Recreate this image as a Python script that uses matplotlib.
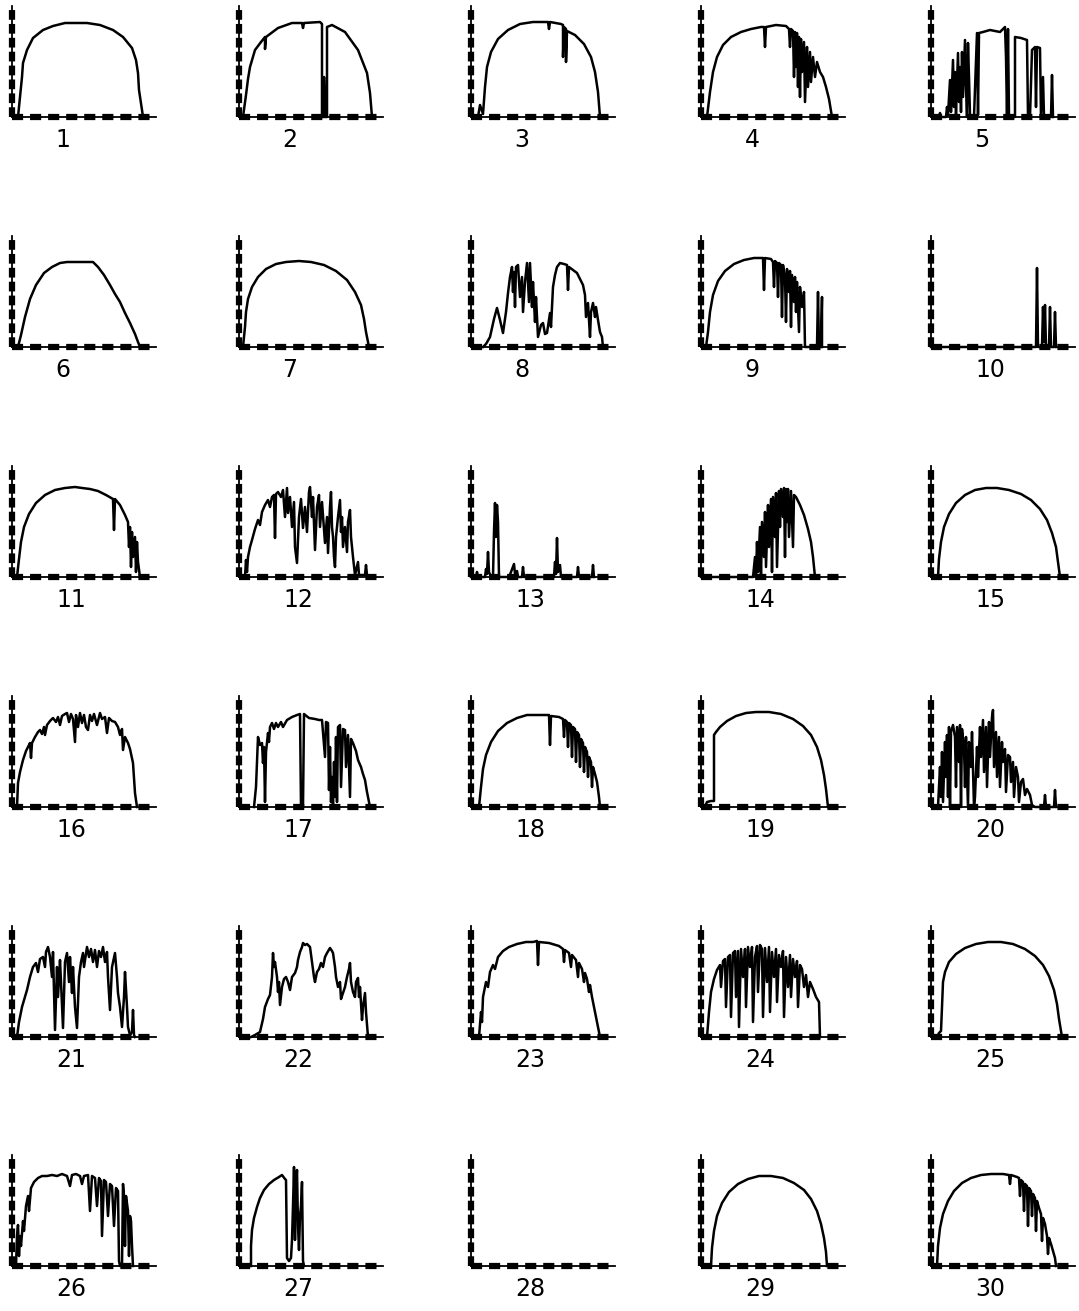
import matplotlib
matplotlib.use("Agg")
import matplotlib.pyplot as plt

# each day: (time step, irradiance) vertices, in panel units (axis 144 wide, 111 high)
day01 = [(6,0),(8,20),(10,40),(11,54),(15,67),(21,79),(31,87),(41,91),(53,94),(75,94),(88,92),(101,87),(111,80),(120,69),(124,57),(126,44),(127,27),(130,7),(131,0)]
day02 = [(4,0),(7,22),(9,38),(11,50),(16,67),(22,75),(26,80),(26,68),(27,80),(39,89),(53,94),(63,94),(64,89),(65,94),(81,95),(83,93),(83,0),(85,0),(85,40),(86,0),(88,0),(88,90),(93,92),(106,85),(119,67),(128,44),(131,24),(133,0)]
day03 = [(7,0),(9,12),(12,3),(14,30),(16,50),(20,65),(27,78),(37,87),(49,93),(62,95),(77,95),(78,88),(79,95),(90,93),(92,92),(92,60),(93,90),(95,88),(95,55),(96,86),(104,82),(113,73),(120,60),(124,45),(127,25),(129,0)]
day04 = [(6,0),(9,25),(12,45),(16,60),(22,72),(30,80),(40,85),(50,88),(60,90),(63,90),(64,70),(65,90),(75,92),(85,91),(88,88),(89,70),(90,88),(92,86),(93,40),(94,85),(95,50),(96,84),(97,30),(98,80),(99,20),(100,78),(101,45),(103,75),(104,15),(106,70),(107,30),(109,65),(110,35),(112,60),(114,40),(116,55),(119,45),(122,40),(125,30),(128,18),(131,0)]
day05 = [(8,0),(9,4),(10,0),(15,0),(16,10),(17,2),(19,37),(20,5),(22,57),(23,10),(24,45),(25,3),(27,64),(28,15),(29,50),(30,5),(31,65),(32,20),(34,77),(35,30),(36,0),(37,74),(38,40),(39,2),(43,0),(46,84),(47,2),(48,84),(52,85),(59,87),(69,85),(74,90),(75,60),(76,0),(77,88),(78,0),(84,0),(84,80),(90,79),(96,77),(97,0),(99,0),(101,67),(104,70),(105,10),(106,70),(109,69),(110,0),(112,40),(113,0),(120,0),(121,42),(122,0)]
day06 = [(6,0),(9,12),(13,30),(18,48),(24,62),(32,74),(40,80),(48,84),(55,85),(81,85),(86,80),(92,72),(98,62),(103,53),(108,45),(113,34),(118,24),(123,13),(126,5),(128,0)]
day07 = [(4,0),(6,20),(7,35),(9,48),(13,60),(19,70),(27,78),(37,83),(47,85),(60,86),(72,85),(85,82),(97,76),(108,67),(116,55),(122,42),(125,28),(127,15),(130,0)]
day08 = [(12,0),(15,3),(19,10),(23,28),(26,39),(29,27),(32,14),(35,35),(37,54),(39,70),(41,80),(42,55),(43,75),(44,40),(45,80),(47,82),(49,50),(51,70),(52,35),(54,65),(56,84),(58,45),(59,84),(61,40),(62,65),(64,25),(65,50),(67,10),(70,22),(72,24),(74,13),(76,14),(79,34),(80,20),(82,60),(84,72),(86,80),(89,84),(93,83),(96,82),(97,57),(98,80),(102,77),(106,74),(109,68),(112,62),(114,52),(115,30),(117,44),(119,10),(120,35),(122,44),(124,30),(125,40),(127,27),(129,15),(131,10),(132,0)]
day09 = [(5,0),(7,15),(9,35),(12,52),(17,66),(24,76),(33,83),(43,87),(53,89),(62,89),(63,57),(64,89),(70,88),(72,85),(73,60),(74,86),(76,84),(77,50),(78,84),(80,82),(81,30),(82,82),(84,70),(85,25),(86,78),(88,55),(89,76),(90,20),(91,72),(93,45),(94,70),(95,35),(96,65),(98,15),(99,60),(101,40),(103,55),(104,0),(116,0),(117,55),(118,0),(120,0),(121,50),(121,0)]
day10 = [(0,0),(105,0),(106,79),(107,0),(111,0),(112,40),(113,5),(114,42),(115,0),(118,0),(119,40),(120,0),(123,0),(124,35),(125,0)]
day11 = [(5,0),(7,18),(9,35),(12,50),(17,63),(24,74),(33,82),(43,87),(53,89),(63,90),(70,89),(78,88),(86,86),(94,82),(101,78),(102,47),(103,78),(108,72),(113,62),(116,55),(117,30),(118,50),(119,10),(120,45),(121,20),(123,40),(124,5),(125,35),(126,15),(128,0)]
day12 = [(6,0),(7,17),(8,5),(9,20),(11,30),(13,37),(16,48),(19,57),(21,52),(23,65),(26,72),(29,77),(31,70),(33,80),(35,82),(36,39),(37,83),(39,85),(42,80),(44,87),(46,60),(48,89),(49,64),(51,80),(53,50),(55,75),(56,30),(58,14),(60,60),(62,78),(64,49),(66,70),(68,45),(70,85),(71,90),(73,60),(74,80),(76,27),(78,70),(80,82),(81,50),(83,75),(86,34),(88,60),(89,24),(91,70),(92,85),(93,50),(94,40),(95,20),(96,10),(97,40),(99,60),(101,77),(102,45),(103,60),(104,30),(106,50),(108,25),(109,55),(111,67),(112,40),(114,20),(116,2),(119,15),(120,2),(126,2),(127,12),(128,2),(129,0)]
day13 = [(0,0),(5,0),(6,5),(7,0),(14,0),(15,8),(16,3),(17,25),(18,5),(20,0),(22,0),(23,45),(24,74),(25,40),(26,72),(27,55),(28,0),(38,0),(40,5),(43,13),(44,3),(46,6),(47,0),(51,0),(52,10),(53,0),(83,0),(84,15),(85,3),(86,39),(87,5),(89,12),(90,0),(106,0),(107,10),(108,0),(121,0),(122,12),(123,0)]
day14 = [(0,0),(52,0),(54,20),(55,0),(56,35),(57,5),(59,50),(60,0),(61,55),(63,20),(64,65),(65,10),(67,72),(68,30),(70,78),(71,5),(72,80),(74,40),(75,84),(76,10),(78,86),(79,50),(80,88),(82,60),(83,89),(84,20),(85,88),(86,55),(87,88),(88,40),(90,86),(92,30),(93,82),(95,80),(99,72),(103,62),(107,48),(110,35),(112,20),(114,0)]
day15 = [(7,0),(8,18),(10,35),(13,50),(18,63),(25,74),(34,82),(44,87),(55,89),(66,89),(78,87),(90,83),(100,77),(109,68),(116,57),(121,44),(125,30),(127,15),(129,0)]
day16 = [(5,0),(6,24),(8,35),(11,47),(14,56),(16,60),(18,64),(19,49),(20,64),(23,70),(26,75),(28,77),(30,73),(32,80),(33,72),(35,82),(38,86),(41,89),(44,85),(46,90),(48,82),(50,91),(53,93),(55,94),(57,85),(59,93),(61,88),(63,65),(64,92),(66,80),(68,94),(70,84),(72,92),(74,80),(76,77),(78,92),(80,86),(82,93),(85,82),(88,94),(90,88),(93,90),(95,74),(97,89),(100,86),(103,85),(106,80),(108,72),(110,78),(111,57),(113,70),(116,64),(118,58),(121,44),(123,14),(125,0)]
day17 = [(15,0),(17,20),(19,70),(21,62),(23,64),(24,44),(25,60),(26,5),(27,55),(29,74),(30,65),(31,80),(33,84),(35,78),(37,84),(39,80),(42,85),(44,80),(48,87),(53,90),(58,92),(61,93),(62,0),(64,0),(65,93),(70,89),(76,88),(80,87),(83,87),(86,50),(87,85),(89,84),(90,17),(91,60),(92,5),(93,30),(94,2),(95,45),(96,10),(97,70),(98,5),(99,80),(101,82),(102,20),(104,78),(106,77),(107,40),(109,72),(111,10),(112,68),(114,64),(117,56),(119,47),(122,40),(124,33),(126,27),(128,15),(131,0)]
day18 = [(8,0),(10,20),(12,38),(15,52),(20,65),(27,76),(36,84),(46,89),(56,92),(70,92),(78,92),(79,62),(80,91),(88,90),(92,88),(93,70),(94,87),(96,85),(97,60),(98,84),(100,82),(101,50),(102,80),(104,78),(105,45),(106,75),(108,72),(109,40),(110,68),(112,64),(113,35),(114,60),(116,55),(117,30),(118,50),(120,45),(121,20),(122,40),(124,33),(126,25),(128,10),(129,0)]
day19 = [(4,0),(6,5),(10,6),(13,6),(13,72),(15,75),(19,80),(26,86),(35,91),(45,94),(55,95),(68,95),(80,93),(92,88),(102,81),(110,72),(116,60),(120,47),(123,32),(125,18),(127,0)]
day20 = [(7,0),(9,40),(10,10),(11,55),(12,5),(14,65),(15,30),(16,72),(17,10),(18,80),(19,0),(20,75),(22,82),(24,70),(25,20),(26,80),(28,45),(29,82),(30,0),(31,78),(33,60),(34,20),(35,70),(37,0),(38,65),(40,40),(41,75),(43,0),(44,10),(46,60),(47,30),(49,80),(50,50),(52,87),(53,35),(55,80),(56,20),(58,85),(59,50),(61,90),(62,97),(63,40),(65,75),(66,30),(68,70),(69,20),(71,65),(72,45),(74,58),(75,15),(77,52),(79,50),(80,25),(82,45),(83,10),(85,40),(87,30),(88,5),(90,25),(92,28),(94,12),(96,18),(99,12),(101,2),(104,0),(113,0),(114,12),(115,0),(123,0),(124,17),(125,0)]
day21 = [(5,0),(7,15),(10,30),(15,47),(18,60),(21,70),(24,74),(26,65),(28,78),(31,80),(33,70),(34,85),(36,90),(38,80),(40,60),(41,85),(43,7),(45,70),(46,40),(48,77),(49,55),(51,9),(53,75),(55,84),(57,55),(58,80),(60,44),(61,70),(63,30),(65,9),(67,60),(69,75),(71,84),(72,70),(75,90),(77,80),(79,88),(81,75),(83,87),(85,70),(87,86),(89,80),(91,90),(93,75),(95,85),(96,60),(98,27),(100,70),(103,84),(105,60),(106,44),(108,30),(110,10),(112,40),(113,65),(115,30),(116,10),(118,2),(120,5),(121,27),(122,2),(123,0)]
day22 = [(12,0),(16,2),(21,5),(24,18),(26,30),(29,38),(31,42),(33,60),(34,84),(35,70),(36,75),(38,60),(39,45),(40,55),(41,32),(43,50),(45,58),(47,60),(49,55),(51,47),(53,60),(56,64),(58,70),(59,77),(61,85),(63,90),(64,94),(66,92),(68,93),(71,90),(73,75),(75,60),(76,55),(78,65),(80,68),(82,74),(84,70),(86,80),(88,84),(91,89),(93,86),(94,84),(96,70),(97,60),(99,50),(101,55),(102,38),(104,44),(106,50),(108,60),(110,68),(111,74),(112,55),(114,45),(116,40),(117,55),(119,59),(120,40),(121,50),(123,17),(124,30),(126,44),(127,25),(129,0)]
day23 = [(8,0),(10,25),(11,15),(12,40),(15,55),(17,50),(19,65),(22,72),(24,68),(27,80),(32,86),(38,90),(46,93),(55,95),(62,95),(66,96),(67,72),(68,95),(78,94),(88,91),(92,88),(93,75),(94,87),(98,84),(100,70),(101,82),(105,77),(107,60),(108,74),(111,68),(113,55),(114,64),(116,58),(118,45),(119,52),(121,40),(123,30),(125,20),(127,10),(129,0)]
day24 = [(6,0),(8,25),(10,45),(13,58),(16,67),(19,72),(20,50),(22,76),(24,78),(25,30),(27,80),(29,82),(30,20),(32,84),(34,86),(35,40),(37,86),(38,10),(40,88),(42,60),(44,88),(45,30),(47,90),(49,70),(51,90),(52,15),(54,80),(56,91),(57,45),(59,92),(61,88),(62,20),(64,89),(66,55),(68,90),(69,25),(71,85),(73,60),(75,88),(76,35),(78,82),(80,70),(82,86),(83,20),(85,80),(87,50),(89,82),(90,40),(92,78),(94,60),(96,76),(97,30),(99,72),(101,68),(103,50),(105,62),(107,40),(109,55),(112,48),(115,40),(118,35),(119,0)]
day25 = [(6,0),(8,4),(10,6),(11,30),(12,55),(14,65),(18,75),(25,83),(34,89),(45,93),(57,95),(70,95),(82,93),(94,88),(104,81),(112,72),(118,61),(123,47),(126,33),(128,18),(131,0)]
day26 = [(4,0),(5,30),(6,41),(7,10),(8,30),(9,20),(11,45),(12,35),(14,60),(16,70),(17,55),(19,78),(22,84),(26,88),(30,90),(35,90),(40,91),(45,90),(50,92),(55,90),(58,80),(60,91),(64,92),(68,90),(70,82),(72,90),(76,91),(78,55),(80,90),(83,88),(85,60),(87,88),(89,85),(90,30),(92,86),(94,84),(96,50),(98,82),(100,80),(102,40),(104,78),(106,75),(107,5),(108,0),(110,0),(111,82),(112,70),(113,20),(114,70),(116,55),(117,10),(118,50),(119,45),(120,20),(121,0)]
day27 = [(12,0),(12,20),(13,36),(15,48),(18,59),(21,68),(25,76),(30,82),(35,86),(40,89),(43,91),(46,87),(47,86),(48,8),(50,5),(52,8),(53,26),(54,60),(55,99),(56,26),(57,80),(58,96),(59,40),(60,16),(61,50),(62,60),(63,84),(64,5),(65,0)]
day28 = []
day29 = [(10,0),(11,18),(13,35),(16,50),(21,63),(28,74),(37,82),(47,87),(58,90),(70,90),(82,88),(93,83),(103,76),(110,67),(116,55),(120,42),(123,28),(125,14),(126,0)]
day30 = [(6,0),(7,20),(9,38),(12,52),(17,65),(23,75),(31,83),(40,88),(50,91),(60,92),(72,92),(78,91),(79,82),(80,91),(86,89),(88,88),(89,70),(90,86),(92,84),(93,55),(94,82),(96,80),(97,40),(98,78),(100,75),(101,50),(102,72),(104,68),(105,35),(106,65),(108,58),(110,52),(111,25),(112,48),(114,42),(116,30),(117,12),(118,28),(120,22),(122,15),(124,8),(125,0)]

days = [day01, day02, day03, day04, day05, day06, day07, day08, day09, day10,
        day11, day12, day13, day14, day15, day16, day17, day18, day19, day20,
        day21, day22, day23, day24, day25, day26, day27, day28, day29, day30]

# panel placement in pixels
W, H = 1079, 1311
col_left = [12, 239, 471, 701, 931]
row_bottom = [117, 347, 577, 807, 1037, 1266]
AX_W, AX_H = 144, 111

plt.rcParams['lines.scale_dashes'] = False

fig = plt.figure(figsize=(W / 100, H / 100), dpi=100)

for i, pts in enumerate(days):
    r, c = divmod(i, 5)
    ax = fig.add_axes([col_left[c] / W, 1 - row_bottom[r] / H, AX_W / W, AX_H / H])
    ax.set_xlim(0, AX_W)
    ax.set_ylim(0, AX_H)
    ax.axis('off')

    # plotter style axes: thin line with heavy dashes on top
    ax.plot([0, 0], [0, AX_H], color='black', lw=1.3, clip_on=False)
    ax.plot([0, 0], [0, AX_H], color='black', lw=4.5, dashes=(7, 3), clip_on=False)
    ax.plot([0, AX_W], [0, 0], color='black', lw=1.3, clip_on=False)
    ax.plot([0, AX_W], [0, 0], color='black', lw=4.5, dashes=(8, 5), clip_on=False)

    if pts:
        xs = [p[0] for p in pts]
        ys = [p[1] for p in pts]
        ax.plot(xs, ys, color='black', lw=1.8, clip_on=False)

    label = str(i + 1)
    ax.text(51 if len(label) == 1 else 59, -23, label, ha='center', va='center',
            fontsize=17, family=['Liberation Sans Narrow', 'DejaVu Sans'])

fig.savefig('out.png', dpi=100)
